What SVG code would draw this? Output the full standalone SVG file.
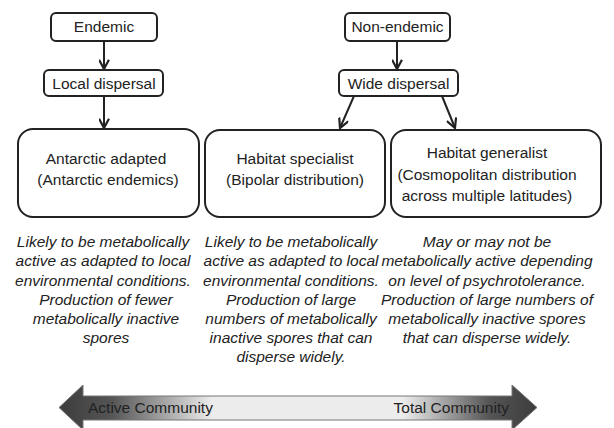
<svg xmlns="http://www.w3.org/2000/svg" width="614" height="428" viewBox="0 0 614 428">
<style>
.box{fill:#fff;stroke:#222;stroke-width:2}
.t{font-family:"Liberation Sans",Arial,sans-serif;font-size:15.5px;fill:#222;text-anchor:middle}
.i{font-family:"Liberation Sans",Arial,sans-serif;font-size:15.5px;font-style:italic;fill:#222;text-anchor:middle}
.c{stroke:#222;stroke-width:2;fill:none;marker-end:url(#ah)}
.b{font-family:"Liberation Sans",Arial,sans-serif;font-size:15.5px;fill:#222}
</style>
<defs>
<marker id="ah" viewBox="0 0 10 10" refX="9" refY="5" markerWidth="5.5" markerHeight="5.5" orient="auto" markerUnits="strokeWidth">
<path d="M0.5,0.5 L9,5 L0.5,9.5" fill="none" stroke="#222" stroke-width="2"/>
</marker>
<linearGradient id="g" x1="59" y1="0" x2="537" y2="0" gradientUnits="userSpaceOnUse">
<stop offset="0" stop-color="#3c3c3c"/>
<stop offset="0.11" stop-color="#555"/>
<stop offset="0.32" stop-color="#ececec"/>
<stop offset="0.72" stop-color="#ececec"/>
<stop offset="0.9" stop-color="#555"/>
<stop offset="1" stop-color="#3c3c3c"/>
</linearGradient>
</defs>
<g id="connectors">
<line class="c" x1="104" y1="41" x2="104" y2="69"/>
<line class="c" x1="104" y1="96" x2="104" y2="128"/>
<line class="c" x1="397" y1="41" x2="397" y2="69"/>
<line class="c" x1="354" y1="96" x2="340" y2="128"/>
<line class="c" x1="442" y1="96" x2="455" y2="128"/>
</g>
<g id="endemic">
<rect class="box" x="51" y="13" width="106" height="28" rx="5"/>
<text class="t" x="104" y="32">Endemic</text>
</g>
<g id="local-dispersal">
<rect class="box" x="44" y="70" width="119" height="26" rx="5"/>
<text class="t" x="104" y="88.5">Local dispersal</text>
</g>
<g id="non-endemic">
<rect class="box" x="345" y="13" width="105" height="28" rx="5"/>
<text class="t" x="397.5" y="32">Non-endemic</text>
</g>
<g id="wide-dispersal">
<rect class="box" x="339" y="70" width="119" height="26" rx="5"/>
<text class="t" x="398.5" y="88.5">Wide dispersal</text>
</g>
<g id="antarctic-adapted">
<rect class="box" x="18" y="129" width="181" height="88" rx="15"/>
<text class="t" x="106" y="164">Antarctic adapted</text>
<text class="t" x="108" y="185">(Antarctic endemics)</text>
</g>
<g id="habitat-specialist">
<rect class="box" x="205" y="130" width="180" height="87" rx="15"/>
<text class="t" x="295" y="164">Habitat specialist</text>
<text class="t" x="295" y="185">(Bipolar distribution)</text>
</g>
<g id="habitat-generalist">
<rect class="box" x="391" y="130" width="210" height="87" rx="15"/>
<text class="t" x="487" y="158">Habitat generalist</text>
<text class="t" x="487" y="180">(Cosmopolitan distribution</text>
<text class="t" x="487" y="201">across multiple latitudes)</text>
</g>
<g id="desc-antarctic">
<text class="i" x="103" y="247">Likely to be metabolically</text>
<text class="i" x="103" y="266">active as adapted to local</text>
<text class="i" x="103" y="285.5">environmental conditions.</text>
<text class="i" x="106" y="305">Production of fewer</text>
<text class="i" x="106" y="324">metabolically inactive</text>
<text class="i" x="106" y="343">spores</text>
</g>
<g id="desc-specialist">
<text class="i" x="291" y="247">Likely to be metabolically</text>
<text class="i" x="291" y="266">active as adapted to local</text>
<text class="i" x="291" y="285.5">environmental conditions.</text>
<text class="i" x="291" y="305">Production of large</text>
<text class="i" x="291" y="324">numbers of metabolically</text>
<text class="i" x="291" y="343">inactive spores that can</text>
<text class="i" x="291" y="362">disperse widely.</text>
</g>
<g id="desc-generalist">
<text class="i" x="487" y="247">May or may not be</text>
<text class="i" x="487" y="266">metabolically active depending</text>
<text class="i" x="487" y="285.5">on level of psychrotolerance.</text>
<text class="i" x="487" y="305">Production of large numbers of</text>
<text class="i" x="487" y="324">metabolically inactive spores</text>
<text class="i" x="487" y="343">that can disperse widely.</text>
</g>
<g id="community-arrow">
<path d="M59,407.5 L83,385 L83,396 L512,396 L512,385 L537,407.5 L512,430 L512,420 L83,420 L83,430 Z" fill="url(#g)" stroke="#777" stroke-width="1"/>
<text class="b" x="88" y="413">Active Community</text>
<text class="b" x="509" y="413" text-anchor="end">Total Community</text>
</g>
</svg>
